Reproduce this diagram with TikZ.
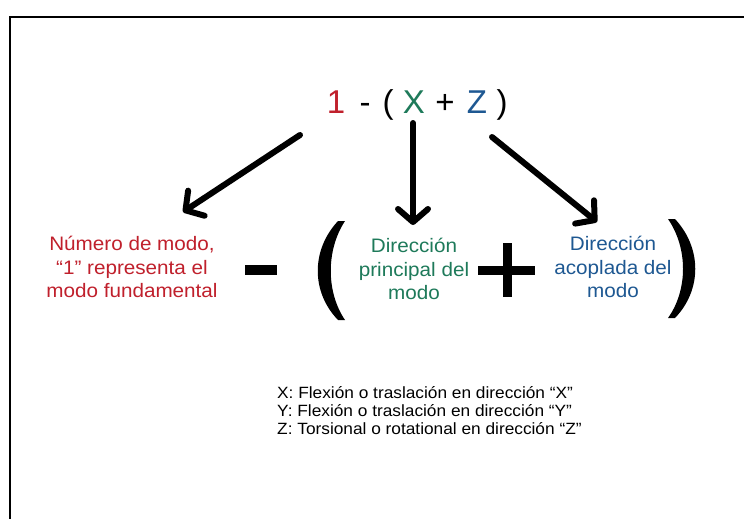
\documentclass[tikz,border=0pt]{standalone}
\usepackage{fontspec}
\setmainfont{Liberation Sans}
\newfontfamily\widefont[FakeStretch=1.06]{Liberation Sans}
\usetikzlibrary{arrows.meta}
\definecolor{cred}{RGB}{192,32,44}
\definecolor{cgreen}{RGB}{30,122,90}
\definecolor{cblue}{RGB}{30,88,146}
\tikzset{
  lbl/.style={anchor=base, inner sep=0pt, outer sep=0pt},
  big/.style={lbl, font=\fontsize{33}{33}\selectfont},
  mid/.style={align=center, inner sep=0pt, font=\widefont\fontsize{19.5}{23.5}\selectfont},
  legend/.style={anchor=base west, inner sep=0pt, font=\widefont\fontsize{16.3}{18}\selectfont},
  thickarrow/.style={line width=6pt, line cap=round, line join=round,
     -{Straight Barb[length=13pt, width=30pt, line cap=round, line join=round]}},
  symb/.style={fill=black, draw=none}
}
\begin{document}
\begin{tikzpicture}[x=1pt, y=-1pt]
\useasboundingbox (0,0) rectangle (744,519);
\fill[white] (0,0) rectangle (744,519);
% frame
\draw[line width=2pt] (10,519) -- (10,17) -- (744,17);

% top formula
\node[big, text=cred]   (n1) at (336,113) {1};
\node[big]              (m1) at (365,113) {-};
\node[big]              (p1) at (388,113) {(};
\node[big, text=cgreen] (nX) at (414,113) {X};
\node[big]              (pl) at (445,113) {+};
\node[big, text=cblue]  (nZ) at (477,113) {Z};
\node[big]              (p2) at (502,113) {)};

% explanation texts
\node[mid, text=cred, anchor=north]   (tmode) at (132,236) {Número de modo,\\“1” representa el\\modo fundamental};
\node[mid, text=cgreen, anchor=north] (tprin) at (414,238) {Dirección\\principal del\\modo};
\node[mid, text=cblue, anchor=north]  (tacop) at (613,236) {Dirección\\acoplada del\\modo};

% arrow end points
\coordinate (a1s) at (300,135);
\coordinate (a1e) at (183,212);
\coordinate (a2s) at (413,123);
\coordinate (a2e) at (413,225);
\coordinate (a3s) at (492,137);
\coordinate (a3e) at (597,222);
\draw[thickarrow] (a1s) -- (a1e);
\draw[thickarrow] (a2s) -- (a2e);
\draw[thickarrow] (a3s) -- (a3e);

% big symbols
\fill[symb] (245,265) rectangle (277,275);
\fill[symb] (338,221) .. controls (311,250) and (311,292) .. (338,320)
  -- (345,320) .. controls (326,292) and (326,250) .. (345,221) -- cycle;
\fill[symb] (478,265.5) rectangle (535,274.5);
\fill[symb] (503,243) rectangle (512,297);
\fill[symb] (675,219) .. controls (702,248) and (702,290) .. (675,318)
  -- (668,318) .. controls (688,290) and (688,248) .. (668,219) -- cycle;

% legend
\node[legend] (l1) at (277,398) {X: Flexión o traslación en dirección “X”};
\node[legend] (l2) at (277,416) {Y: Flexión o traslación en dirección “Y”};
\node[legend] (l3) at (277,434) {Z: Torsional o rotational en dirección “Z”};
\end{tikzpicture}
\end{document}
